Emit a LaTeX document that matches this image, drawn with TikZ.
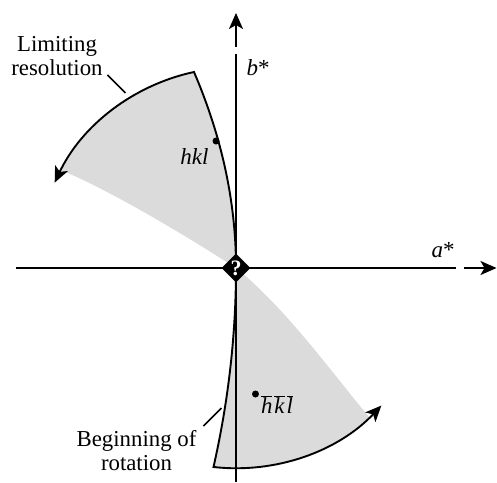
\documentclass[tikz,border=0pt]{standalone}
\usepackage{fontspec}
\setmainfont{Liberation Serif}
\usetikzlibrary{arrows.meta,shapes.geometric}
\newcommand{\ob}[1]{$\overline{\hbox{\itshape #1}}$}
\tikzset{
  x=1pt,y=1pt,
  axisline/.style={line width=2pt,black},
  curveline/.style={line width=1.9pt,black},
  leader/.style={line width=1.5pt,black},
  tip/.style={-{Stealth[length=16pt,width=14pt,inset=4pt]}},
  lab/.style={font=\fontsize{22.8}{24}\selectfont,inner sep=0pt,align=center},
  ilab/.style={font=\itshape\fontsize{23}{24}\selectfont,inner sep=0pt},
  dot/.style={circle,fill=black,inner sep=0pt,minimum size=7pt},
  centre/.style={diamond,fill=black,inner sep=0pt,minimum size=29pt,text=white,font=\bfseries\fontsize{22}{22}\selectfont},
}
\begin{document}
\begin{tikzpicture}
\useasboundingbox (-236,-214) rectangle (261,268);
% shaded sectors
\fill[black!14] (0,0) .. controls (0,65.3) and (-14,130.7) .. (-42,196)
  arc[start angle=102.1,end angle=150.8,radius=200.4]
  .. controls (-136,82) and (-70,45) .. (0,0) -- cycle;
\fill[black!14] (0,0) .. controls (0,-66.3) and (-7.5,-132.7) .. (-22.5,-199)
  arc[start angle=263.6,end angle=311.8,radius=200.3]
  .. controls (100,-110) and (50,-40) .. (0,0) -- cycle;
% axes
\coordinate (aL) at (-220,0);
\coordinate (aR) at (219.5,0);
\coordinate (aS) at (227.5,0);
\coordinate (aT) at (260.5,0);
\coordinate (bB) at (0,-214);
\coordinate (bU) at (0,214);
\coordinate (bS) at (0,221);
\coordinate (bT) at (0,255);
\draw[axisline] (aL) -- (aR);
\draw[axisline,tip] (aS) -- (aT);
\draw[axisline] (bB) -- (bU);
\draw[axisline,tip] (bS) -- (bT);
% rotation curves
\coordinate (u0) at (-42,196);
\coordinate (l0) at (-22.5,-199);
\draw[curveline,line join=miter,tip] (0,0) .. controls (0,65.3) and (-14,130.7) .. (u0)
  arc[start angle=102.1,end angle=154.8,radius=200.4];
\draw[curveline,line join=miter,tip] (0,0) .. controls (0,-66.3) and (-7.5,-132.7) .. (l0)
  arc[start angle=263.6,end angle=316.6,radius=200.3];
% centre
\node[centre] (O) at (0,0) {?};
% reflections
\node[dot] (hkl) at (-20,127) {};
\node[dot] (mhkl) at (19.5,-126) {};
% labels
\node[ilab] (hkllab) at (-41.5,111) {hkl};
\node[lab] (mhkllab) at (41,-137) {\ob{h}\kern2pt\ob{k}\kern2pt\ob{l}};
\node[ilab] (blab) at (22,200) {b\textup{*}};
\node[ilab] (alab) at (207,18) {a\textup{*}};
\node[lab] (lim) at (-179,212) {Limiting\\resolution};
\node[lab] (beg) at (-99.5,-183) {Beginning of\\rotation};
% leaders
\coordinate (limA) at (-128.5,193);
\coordinate (limB) at (-110.5,175);
\coordinate (begA) at (-32.5,-158);
\coordinate (begB) at (-14.5,-140);
\draw[leader] (limA) -- (limB);
\draw[leader] (begA) -- (begB);
\end{tikzpicture}
\end{document}
